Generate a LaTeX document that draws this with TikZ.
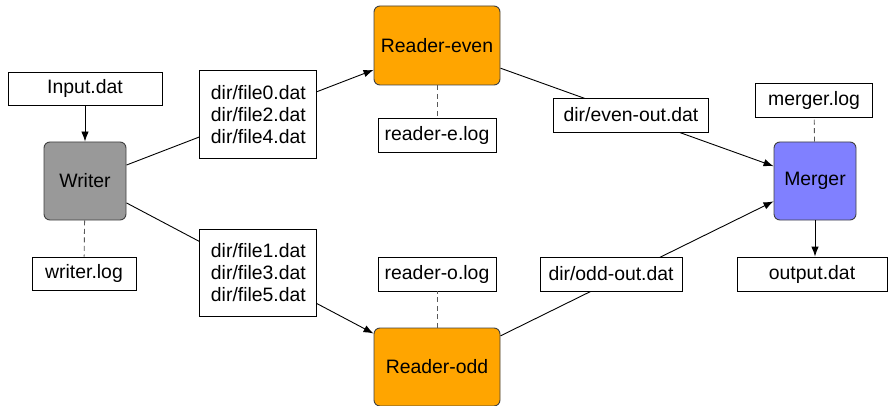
\documentclass[tikz,border=0pt]{standalone}
\usepackage{fontspec}
\setmainfont{Liberation Sans}
\usetikzlibrary{arrows.meta}

\definecolor{readerorange}{HTML}{FFA500}
\definecolor{mergerblue}{HTML}{8080FF}
\definecolor{writergray}{HTML}{999999}

\begin{document}
\begin{tikzpicture}[
    x=1pt, y=-1pt,
    font=\fontsize{19.4}{22}\selectfont,
    >={Latex[length=10pt,width=7.5pt]},
    line width=0.9pt,
    filebox/.style={draw=black, fill=white, minimum height=34pt, inner sep=0pt, align=center},
    procbox/.style={draw=black!75, rounded corners=6pt, minimum width=82pt, minimum height=78pt, align=center},
    logline/.style={draw=black!65, dashed, dash pattern=on 5pt off 3.5pt}
]
    \useasboundingbox (0,0) rectangle (888,406);

    % processes
    \node[procbox, fill=writergray] (writer) at (85, 181) {Writer};
    \node[procbox, fill=readerorange, minimum width=126pt, minimum height=79pt] (readeven) at (437, 45.5) {Reader-even};
    \node[procbox, fill=readerorange, minimum width=126pt, minimum height=78pt] (readodd) at (437, 367) {Reader-odd};
    \node[procbox, fill=mergerblue] (merger) at (815, 181) {Merger};

    % files and logs
    \node[filebox, minimum width=154pt, minimum height=33pt] (input) at (85, 88.5) {Input.dat};
    \node[filebox, minimum width=104pt, minimum height=33pt] (writerlog) at (84, 273.5) {writer.log};
    \node[filebox, minimum width=118pt] (readelog) at (437, 135) {reader-e.log};
    \node[filebox, minimum width=118pt] (readolog) at (437, 274) {reader-o.log};
    \node[filebox, minimum width=117pt] (mergerlog) at (814, 100) {merger.log};
    \node[filebox, minimum width=150pt] (output) at (812, 274) {output.dat};

    \draw[->] (input) -- (writer);
    \draw[->] (merger.south) -- (merger.south |- output.north);

    \draw[logline] (writer) -- (writerlog);
    \draw[logline] (readeven) -- (readelog);
    \draw[logline] (readodd) -- (readolog);
    \draw[logline] (merger) -- (mergerlog);

    \draw[->] (writer) -- node[filebox, pos=0.534, minimum width=117pt, minimum height=88pt] (evenfiles) {dir/file0.dat\\dir/file2.dat\\dir/file4.dat} (readeven);
    \draw[->] (writer) -- node[filebox, pos=0.534, minimum width=117pt, minimum height=87pt] (oddfiles) {dir/file1.dat\\dir/file3.dat\\dir/file5.dat} (readodd);

    \draw[->] (readeven) -- node[filebox, pos=0.478, minimum width=155pt] (evenout) {dir/even-out.dat} (merger);
    \draw[->] (readodd) -- node[filebox, pos=0.405, yshift=7.4pt, minimum width=142pt] (oddout) {dir/odd-out.dat} (merger);

\end{tikzpicture}
\end{document}
